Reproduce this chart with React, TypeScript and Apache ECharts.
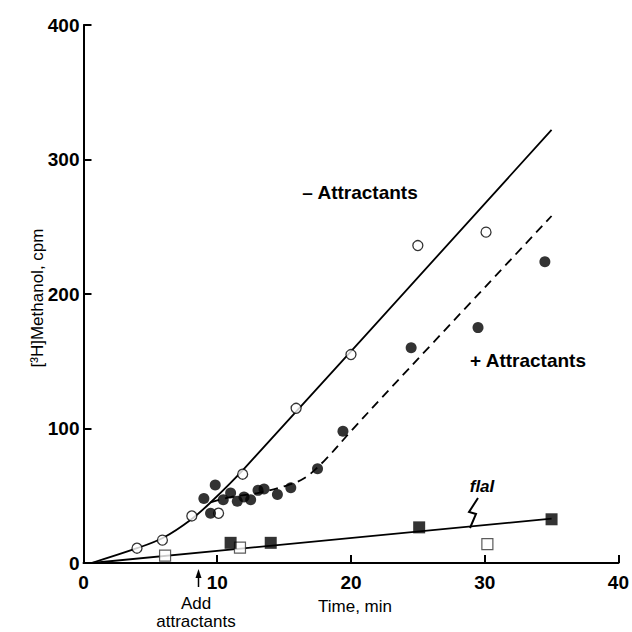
import React, { useEffect, useRef } from 'react';
import * as echarts from 'echarts';

// Axis ticks
const xTicks = [0, 10, 20, 30, 40];
const yTicks = [0, 100, 200, 300, 400];

// − Attractants (open circles)
const openCircles = [
  [4.0, 11], [5.9, 17], [8.1, 35], [10.1, 37], [11.9, 66], [15.9, 115],
  [20.0, 155], [25.0, 236], [30.1, 246],
];
// + Attractants (filled circles)
const filledCircles = [
  [9.0, 48], [9.5, 37], [9.85, 58], [10.45, 47], [11.0, 52], [11.5, 46],
  [12.0, 49], [12.5, 47], [13.05, 54], [13.5, 55], [14.5, 51], [15.5, 56],
  [17.5, 70], [19.4, 98], [24.5, 160], [29.5, 175], [34.5, 224],
];
// flaI mutant
const filledSquares = [[11.0, 15], [14.0, 15], [25.1, 26.5], [35.0, 32.5]];
const openSquares = [[6.1, 5.5], [11.7, 11.5], [30.2, 14]];

// Fitted curves
const minusFit = [[0.6, 0], [4, 11], [6, 19], [8, 32], [9.5, 45], [12, 70], [35, 322]];
const plusFit = [[9.5, 45], [11, 49], [13, 52], [15, 57], [16.5, 63], [18, 76], [20, 98], [22.5, 125], [35, 258]];
const flaLine = [[0.6, 0], [35, 33]];

const FONT = '"Liberation Sans", Arial, sans-serif';

export default function App() {
  const ref = useRef<HTMLDivElement>(null);
  useEffect(() => {
    document.body.style.margin = '0';
    const chart = echarts.init(ref.current!, null, { renderer: 'svg' });
    const lineBase = { type: 'line', symbol: 'none', silent: true, z: 2 };
    chart.setOption({
      animation: false,
      backgroundColor: '#fff',
      grid: { left: 83.5, right: 10.5, top: 25, bottom: 69 },
      xAxis: {
        type: 'value', min: xTicks[0], max: xTicks[xTicks.length - 1], interval: 10,
        axisLine: { lineStyle: { color: '#000', width: 2 } },
        axisTick: { inside: true, length: 8, lineStyle: { color: '#000', width: 2 } },
        axisLabel: { color: '#000', fontSize: 19, fontWeight: 'bold', fontFamily: FONT, margin: 10 },
        splitLine: { show: false },
      },
      yAxis: {
        type: 'value', min: yTicks[0], max: yTicks[yTicks.length - 1], interval: 100,
        axisLine: { show: true, lineStyle: { color: '#000', width: 2 } },
        axisTick: { show: true, inside: true, length: 8, lineStyle: { color: '#000', width: 2 } },
        axisLabel: { color: '#000', fontSize: 19, fontWeight: 'bold', fontFamily: FONT, margin: 4 },
        splitLine: { show: false },
      },
      series: [
        { ...lineBase, data: minusFit, smooth: 0.35, lineStyle: { color: '#000', width: 1.8 } },
        { ...lineBase, data: plusFit, smooth: 0.35, lineStyle: { color: '#000', width: 1.8, type: [9, 6] } },
        { ...lineBase, data: flaLine, lineStyle: { color: '#000', width: 1.8 } },
        { type: 'scatter', data: openCircles, symbol: 'circle', symbolSize: 10, z: 5, silent: true,
          itemStyle: { color: '#fff', borderColor: '#000', borderWidth: 1.3 } },
        { type: 'scatter', data: filledCircles, symbol: 'circle', symbolSize: 11, z: 6, silent: true,
          itemStyle: { color: '#000' } },
        { type: 'scatter', data: filledSquares, symbol: 'rect', symbolSize: 12, z: 6, silent: true,
          itemStyle: { color: '#000' } },
        { type: 'scatter', data: openSquares, symbol: 'rect', symbolSize: 11, z: 5, silent: true,
          itemStyle: { color: '#fff', borderColor: '#333', borderWidth: 1.2 } },
      ],
      graphic: [
        { type: 'text', x: 360, y: 192, style: { text: '– Attractants', font: `bold 19px ${FONT}`, fill: '#000', align: 'center', verticalAlign: 'middle' } },
        { type: 'text', x: 528, y: 360, style: { text: '+ Attractants', font: `bold 19px ${FONT}`, fill: '#000', align: 'center', verticalAlign: 'middle' } },
        { type: 'text', x: 482, y: 486, style: { text: 'flaI', font: `italic bold 17px ${FONT}`, fill: '#000', align: 'center', verticalAlign: 'middle' } },
        { type: 'polyline', shape: { points: [[478, 498], [469, 512], [476, 514], [470, 528]] }, style: { stroke: '#000', lineWidth: 2, fill: 'none' } },
        { type: 'line', shape: { x1: 198.5, y1: 587, x2: 198.5, y2: 575 }, style: { stroke: '#000', lineWidth: 1.5 } },
        { type: 'polygon', shape: { points: [[195.5, 578], [201.5, 578], [198.5, 569]] }, style: { fill: '#000' } },
        { type: 'text', x: 196, y: 603, style: { text: 'Add', font: `17px ${FONT}`, fill: '#000', align: 'center', verticalAlign: 'middle' } },
        { type: 'text', x: 196, y: 621, style: { text: 'attractants', font: `17px ${FONT}`, fill: '#000', align: 'center', verticalAlign: 'middle' } },
        { type: 'text', x: 355, y: 606, style: { text: 'Time, min', font: `17px ${FONT}`, fill: '#000', align: 'center', verticalAlign: 'middle' } },
        { type: 'text', x: 37, y: 298, rotation: Math.PI / 2, style: { text: '[³H]Methanol, cpm', font: `17px ${FONT}`, fill: '#000', align: 'center', verticalAlign: 'middle' } },
      ],
    });
    return () => chart.dispose();
  }, []);
  return <div ref={ref} style={{ width: 632, height: 632 }} />;
}
